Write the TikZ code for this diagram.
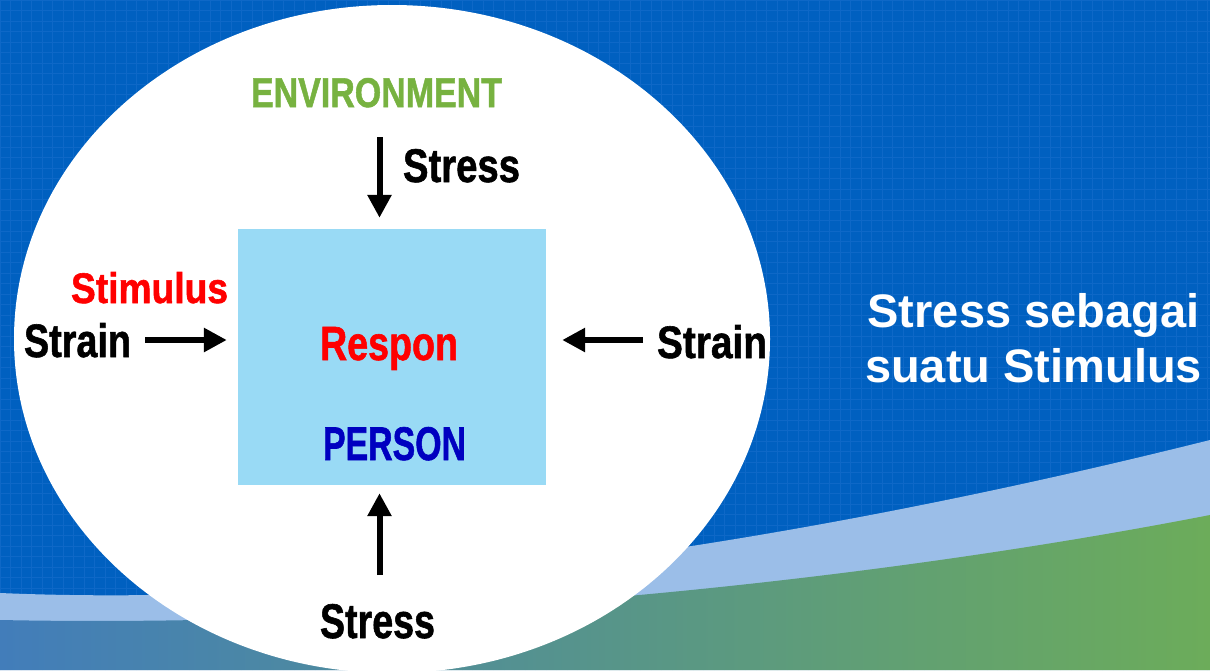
\documentclass[tikz,border=0pt]{standalone}
\usepackage{fontspec}
\setmainfont{Liberation Sans}
\newfontfamily\lblfont[FakeBold=1.3]{Liberation Sans Bold}
\usepackage{graphicx}
\usetikzlibrary{arrows.meta,shapes.geometric}
\definecolor{bgblue}{RGB}{0,96,192}
\definecolor{gridblue}{RGB}{14,104,199}
\definecolor{bandblue}{RGB}{155,190,232}
\definecolor{waveL}{RGB}{66,125,186}
\definecolor{waveM}{RGB}{95,155,140}
\definecolor{waveR}{RGB}{108,172,90}
\definecolor{boxblue}{RGB}{153,218,245}
\definecolor{envgreen}{RGB}{119,178,64}
\definecolor{persblue}{RGB}{0,0,192}
\newcommand\fittxt[3]{\resizebox{#1pt}{#2pt}{\lblfont #3}}
\tikzset{
  arr/.style={line width=6pt, -{Triangle[width=23pt,length=23pt]}},
  lbl/.style={anchor=base west, inner sep=0pt, outer sep=0pt},
  rtxt/.style={anchor=base, inner sep=0pt, text=white, font=\fontsize{47}{55}\selectfont\bfseries}
}
\begin{document}
\begin{tikzpicture}[x=1pt,y=-1pt]
\useasboundingbox (0,0) rectangle (1210,670);
\clip (0,0) rectangle (1210,670);
% background
\fill[bgblue] (0,0) rectangle (1210,670);
\draw[gridblue, line width=0.9pt] (0pt,0pt) grid[step=10.5pt] (1210pt,-670pt);
% waves
\fill[bandblue] (0,593) .. controls (400,610) and (850,530) .. (1210,440) -- (1210,670) -- (0,670) -- cycle;
\shade[left color=waveL, middle color=waveM, right color=waveR] (0,620) .. controls (400,628) and (850,585) .. (1210,515) -- (1210,670) -- (0,670) -- cycle;
% big ellipse
\node[ellipse, fill=white, minimum width=756pt, minimum height=668pt, inner sep=0pt] (oval) at (392,339) {};
% person box
\node[fill=boxblue, minimum width=308pt, minimum height=256pt, inner sep=0pt] (person) at (392,357) {};
% texts
\node[lbl, text=envgreen] (env) at (251,107) {\fittxt{251}{29}{ENVIRONMENT}};
\node[lbl] (stresstop) at (403,182) {\fittxt{117}{33}{Stress}};
\node[lbl, text=red] (stim) at (71,303) {\fittxt{157}{31}{Stimulus}};
\node[lbl] (strainL) at (24,357) {\fittxt{107}{34}{Strain}};
\node[lbl, text=red] (respon) at (320,360) {\fittxt{138}{33}{Respon}};
\node[lbl, text=persblue] (pers) at (323,460) {\fittxt{143}{33}{PERSON}};
\node[lbl] (strainR) at (657,358) {\fittxt{110}{33}{Strain}};
\node[lbl] (stressbot) at (320,638) {\fittxt{115}{34}{Stress}};
\node[rtxt] (rt1) at (1033.5,327) {Stress sebagai};
\node[rtxt] (rt2) at (1033.5,382) {suatu Stimulus};
% arrows
\coordinate (ts) at (379.5,137);
\coordinate (bs) at (379.5,575);
\coordinate (ls) at (145,340);
\coordinate (rs) at (643,340);
\draw[arr, shorten >=11pt] (ts) -- (ts |- person.north);
\draw[arr, shorten >=8pt] (bs) -- (bs |- person.south);
\draw[arr, shorten >=11pt] (ls) -- (ls -| person.west);
\draw[arr, shorten >=16pt] (rs) -- (rs -| person.east);
\end{tikzpicture}
\end{document}
